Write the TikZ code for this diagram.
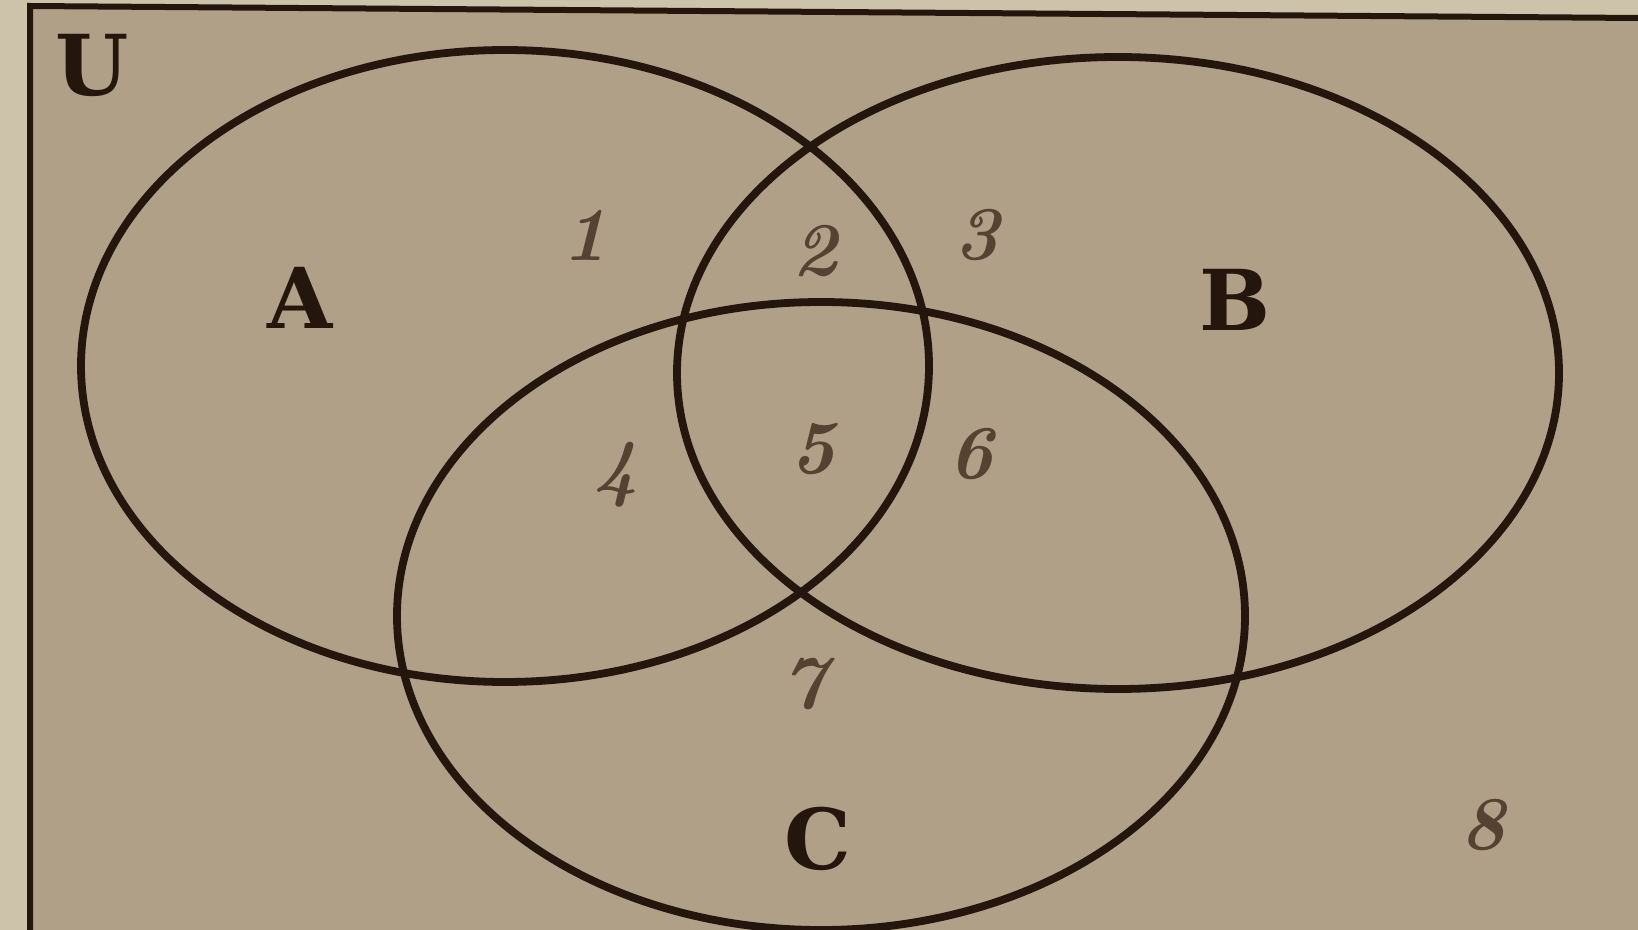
\documentclass[tikz,border=0pt]{standalone}
\usepackage{tikz}
\usepackage{fontspec}
\newfontfamily\clarendon{DejaVu Serif}
\definecolor{paper}{RGB}{176,160,136}
\definecolor{edge}{RGB}{205,195,170}
\definecolor{ink}{RGB}{36,22,12}
\definecolor{pencil}{RGB}{85,66,50}
\tikzset{
  setline/.style={draw=ink, line width=3.9pt},
  setlabel/.style={text=ink, font=\clarendon\fontsize{42}{42}\selectfont\bfseries},
  numlabel/.style={text=pencil, font=\fontsize{38}{38}\selectfont\itshape\bfseries}
}
\begin{document}
\begin{tikzpicture}[x=0.5pt,y=-0.5pt]
\useasboundingbox (0,0) rectangle (1638,930);
\fill[edge] (0,0) rectangle (1638,930);
\fill[paper] (30,6) -- (1638,18) -- (1638,930) -- (30,930) -- cycle;
\draw[ink, line width=3pt] (30,930) -- (30,6) -- (1638,18);
% sets
\draw[setline] (505,366) ellipse [x radius=424, y radius=316];
\draw[setline] (1118,373) ellipse [x radius=441, y radius=316];
\draw[setline] (821,616) ellipse [x radius=424, y radius=314];
% labels
\node[setlabel] (U) at (92,65) {U};
\node[setlabel] (A) at (300,298) {A};
\node[setlabel] (B) at (1235,300) {B};
\node[setlabel] (C) at (818,839) {C};
\node[numlabel] (n1) at (585,235) {1};
\node[numlabel] (n2) at (815,251) {2};
\node[numlabel] (n3) at (977,235) {3};
\node[numlabel] (n4) at (616,475) {4};
\node[numlabel] (n5) at (813,449) {5};
\node[numlabel] (n6) at (971,454) {6};
\node[numlabel] (n7) at (804,684) {7};
\node[numlabel] (n8) at (1483,825) {8};
\end{tikzpicture}
\end{document}
